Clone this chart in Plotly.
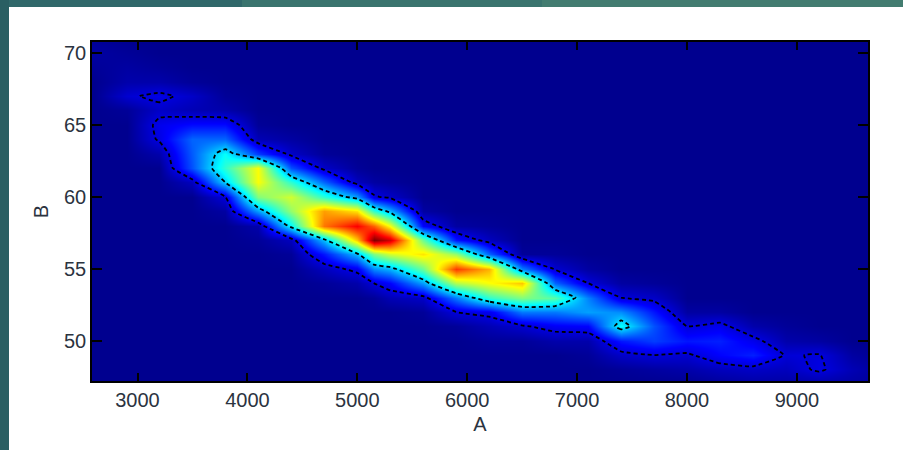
import plotly.graph_objects as go
import numpy as np

# Axis grids
x_values = [2600, 2900, 3200, 3500, 3800, 4100, 4400, 4700, 5000, 5150, 5300, 5600, 5900,
            6200, 6500, 6800, 7100, 7400, 7700, 8000, 8300, 8600, 8900, 9200, 9500, 9800]
y_values = [47, 48, 49, 50, 51, 52, 53, 54, 55, 56, 57, 58, 59, 60, 61, 62, 63, 64, 65, 66, 67, 68, 69, 70, 71]

# Density values, one list per x value (y = 47 ... 71)
c2600 = [0, 0, 0, 0, 0, 0, 0, 0, 0, 0, 0, 0, 0, 0, 0, 0, 0, 0, 0, 0, 0, 0, 1, 2, 1]
c2900 = [0, 0, 0, 0, 0, 0, 0, 0, 0, 0, 0, 0, 0, 0, 0, 0, 0, 0, 0, 1, 7, 3, 2, 1, 0]
c3200 = [0, 0, 0, 0, 0, 0, 0, 0, 0, 0, 0, 0, 0, 0, 0, 0, 3, 9, 10, 6, 9.5, 3, 1, 0, 0]
c3500 = [0, 0, 0, 0, 0, 0, 0, 0, 0, 0, 0, 0, 0, 0, 5, 20, 21, 22, 13, 4, 6, 1, 0, 0, 0]
c3800 = [0, 0, 0, 0, 0, 0, 0, 0, 0, 0, 0, 0, 2, 8, 33, 42, 38, 22, 13, 3, 1, 0, 0, 0, 0]
c4100 = [0, 0, 0, 0, 0, 0, 0, 0, 0, 0, 1, 3, 28, 50, 62, 62, 18, 4, 1, 0, 0, 0, 0, 0, 0]
c4400 = [0, 0, 0, 0, 0, 0, 0, 0, 0, 1, 5, 37, 52, 58, 42, 20, 6, 2, 0, 0, 0, 0, 0, 0, 0]
c4700 = [0, 0, 0, 0, 0, 0, 0, 1, 5, 14, 31, 76, 72, 42, 22, 6, 1, 0, 0, 0, 0, 0, 0, 0, 0]
c5000 = [0, 0, 0, 0, 0, 0, 0, 3, 10, 31, 68, 88, 65, 28, 5, 1, 0, 0, 0, 0, 0, 0, 0, 0, 0]
c5150 = [0, 0, 0, 0, 0, 0, 1, 8, 26, 50, 100, 78, 42, 9, 2, 0, 0, 0, 0, 0, 0, 0, 0, 0, 0]
c5300 = [0, 0, 0, 0, 0, 0, 4, 12, 30, 58, 92, 62, 30, 6, 1, 0, 0, 0, 0, 0, 0, 0, 0, 0, 0]
c5600 = [0, 0, 0, 0, 0, 1, 6, 28, 48, 65, 48, 12, 2, 0, 0, 0, 0, 0, 0, 0, 0, 0, 0, 0, 0]
c5900 = [0, 0, 0, 0, 1, 8, 24, 55, 82, 52, 14, 2, 0, 0, 0, 0, 0, 0, 0, 0, 0, 0, 0, 0, 0]
c6200 = [0, 0, 0, 1, 4, 10, 42, 62, 70, 22, 5, 1, 0, 0, 0, 0, 0, 0, 0, 0, 0, 0, 0, 0, 0]
c6500 = [0, 0, 0, 1, 7, 24, 50, 68, 25, 1, 0, 0, 0, 0, 0, 0, 0, 0, 0, 0, 0, 0, 0, 0, 0]
c6800 = [0, 0, 0, 3, 11, 24, 46, 22, 7, 1, 0, 0, 0, 0, 0, 0, 0, 0, 0, 0, 0, 0, 0, 0, 0]
c7100 = [0, 0, 1, 3, 12, 28, 25, 8, 2, 0, 0, 0, 0, 0, 0, 0, 0, 0, 0, 0, 0, 0, 0, 0, 0]
c7400 = [0, 1, 6, 14, 38, 26, 8, 2, 0, 0, 0, 0, 0, 0, 0, 0, 0, 0, 0, 0, 0, 0, 0, 0, 0]
c7700 = [0, 2, 8, 18, 20, 14, 6, 1, 0, 0, 0, 0, 0, 0, 0, 0, 0, 0, 0, 0, 0, 0, 0, 0, 0]
c8000 = [0, 3, 7, 14, 8, 2, 0, 0, 0, 0, 0, 0, 0, 0, 0, 0, 0, 0, 0, 0, 0, 0, 0, 0, 0]
c8300 = [1, 5, 12, 15, 10, 2, 0, 0, 0, 0, 0, 0, 0, 0, 0, 0, 0, 0, 0, 0, 0, 0, 0, 0, 0]
c8600 = [2, 6, 15, 10, 3, 0, 0, 0, 0, 0, 0, 0, 0, 0, 0, 0, 0, 0, 0, 0, 0, 0, 0, 0, 0]
c8900 = [2, 5, 7.5, 3, 1, 0, 0, 0, 0, 0, 0, 0, 0, 0, 0, 0, 0, 0, 0, 0, 0, 0, 0, 0, 0]
c9200 = [2, 9, 8.4, 2, 0, 0, 0, 0, 0, 0, 0, 0, 0, 0, 0, 0, 0, 0, 0, 0, 0, 0, 0, 0, 0]
c9500 = [2, 4, 2, 0, 0, 0, 0, 0, 0, 0, 0, 0, 0, 0, 0, 0, 0, 0, 0, 0, 0, 0, 0, 0, 0]
c9800 = [1, 1, 0, 0, 0, 0, 0, 0, 0, 0, 0, 0, 0, 0, 0, 0, 0, 0, 0, 0, 0, 0, 0, 0, 0]

columns = [c2600, c2900, c3200, c3500, c3800, c4100, c4400, c4700, c5000, c5150, c5300, c5600, c5900,
           c6200, c6500, c6800, c7100, c7400, c7700, c8000, c8300, c8600, c8900, c9200, c9500, c9800]
z = np.array(columns, dtype=float).T.tolist()

x_ticks = [3000, 4000, 5000, 6000, 7000, 8000, 9000]
y_ticks = [50, 55, 60, 65, 70]

jet = [[0, "#00008f"], [0.12, "#0000ff"], [0.375, "#00ffff"], [0.625, "#ffff00"],
       [0.875, "#ff0000"], [1, "#800000"]]

fig = go.Figure()
fig.add_trace(go.Heatmap(x=x_values, y=y_values, z=z, zmin=0, zmax=100, colorscale=jet,
                         zsmooth="best", showscale=False))
fig.add_trace(go.Contour(x=x_values, y=y_values, z=z, showscale=False,
                         autocontour=False,
                         contours=dict(coloring="none", start=8, end=33, size=25),
                         line=dict(color="#000000", width=1.8, dash="4px,3px", smoothing=0.4)))

axis_font = dict(family="Liberation Sans", size=20, color="#2b3340")
fig.update_layout(
    width=903, height=450,
    margin=dict(l=92, r=35, t=42, b=69, autoexpand=False),
    paper_bgcolor="#ffffff", plot_bgcolor="#00008f",
    showlegend=False,
    xaxis=dict(range=[2586, 9647], tickvals=x_ticks, ticks="inside", ticklen=8, tickwidth=1.5,
               tickcolor="#000000", showline=True, linecolor="#000000", linewidth=1.5, mirror="allticks",
               showgrid=False, zeroline=False, tickfont=axis_font,
               title=dict(text="A", font=axis_font, standoff=7)),
    yaxis=dict(range=[47.2, 70.76], tickvals=y_ticks, ticks="inside", ticklen=10, tickwidth=1.5,
               tickcolor="#000000", showline=True, linecolor="#000000", linewidth=1.5, mirror="allticks",
               showgrid=False, zeroline=False, tickfont=axis_font,
               title=dict(text="B", font=axis_font, standoff=10)),
    shapes=[
        dict(type="rect", xref="paper", yref="paper", x0=-92/776, x1=150/776,
             y0=(381-7)/339, y1=381/339, fillcolor="#30686a", line_width=0, layer="below"),
        dict(type="rect", xref="paper", yref="paper", x0=150/776, x1=450/776,
             y0=(381-7)/339, y1=381/339, fillcolor="#3a746e", line_width=0, layer="below"),
        dict(type="rect", xref="paper", yref="paper", x0=450/776, x1=(903-92)/776,
             y0=(381-7)/339, y1=381/339, fillcolor="#437c70", line_width=0, layer="below"),
        dict(type="rect", xref="paper", yref="paper", x0=-92/776, x1=-83/776,
             y0=-69/339, y1=381/339, fillcolor="#2a5f63", line_width=0, layer="below"),
    ],
)

fig.write_html("out.html", config={"displayModeBar": False},
               post_script="document.body.style.margin='0';")
